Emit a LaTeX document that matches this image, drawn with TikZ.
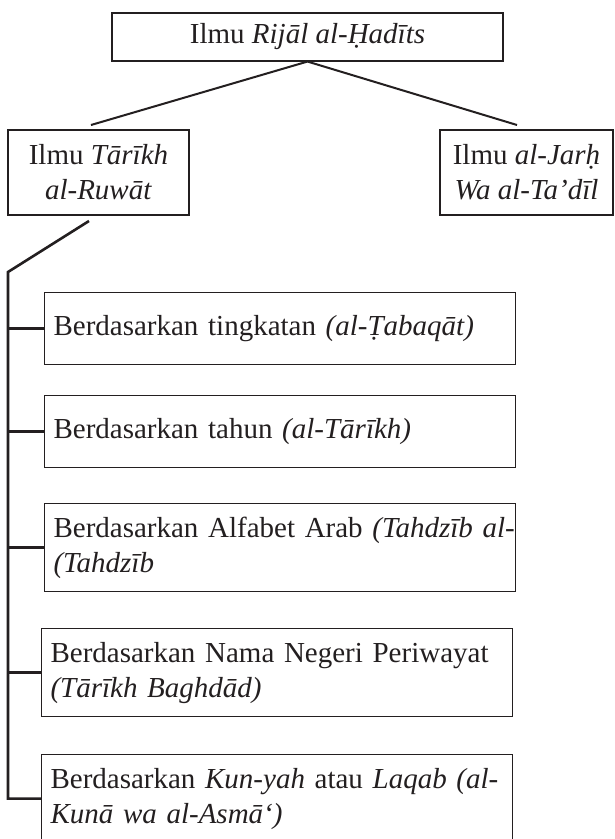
\documentclass[tikz,border=0pt]{standalone}
\usepackage{fontspec}
\setmainfont{Liberation Serif}[Ligatures=ResetAll]
\definecolor{ink}{HTML}{231F20}
\begin{document}
\begin{tikzpicture}[x=1pt,y=-1pt,
  every node/.style={font=\fontsize{29pt}{35pt}\selectfont, text=ink},
  box/.style={draw=ink, line width=1.1pt, inner sep=0pt},
  lbox/.style={box, anchor=north west, text width=453pt, inner xsep=9pt, minimum height=#1, align=left},
  cbox/.style={box, align=center},
  conn/.style={draw=ink, line width=2pt},
  trunk/.style={draw=ink, line width=2.6pt}]
\useasboundingbox (0,0) rectangle (614,839);
\clip (0,0) rectangle (614,839);

\node[cbox, minimum width=391pt, minimum height=48pt] (root) at (307.5,37) {Ilmu \textit{Rijāl al-Ḥadīts}};
\node[cbox, minimum width=181pt, minimum height=85pt] (tarikh) at (98.5,172.5) {Ilmu \textit{Tārīkh}\\\textit{al-Ruwāt}};
\node[cbox, minimum width=173pt, minimum height=85pt] (jarh) at (526.5,172.5) {Ilmu \textit{al-Jarḥ}\\\textit{Wa al-Ta’dīl}};

\node[lbox=72pt] (b1) at (44,292) {\mbox{Berdasarkan tingkatan \textit{(al-Ṭabaqāt)}}};
\node[lbox=72pt] (b2) at (44,395) {\mbox{Berdasarkan tahun \textit{(al-Tārīkh)}}};
\node[lbox=88pt] (b3) at (44,503) {\mbox{Berdasarkan Alfabet Arab \textit{(Tahdzīb al-}}\\\mbox{\textit{(Tahdzīb}}};
\node[lbox=88pt] (b4) at (41,628) {\mbox{Berdasarkan Nama Negeri Periwayat}\\\mbox{\textit{(Tārīkh Baghdād)}}};
\node[lbox=88pt] (b5) at (41,754) {\mbox{Berdasarkan \textit{Kun-yah} atau \textit{Laqab (al-}}\\\mbox{\textit{Kunā wa al-Asmā`)}}};

\coordinate (lend) at (91,125);
\coordinate (rend) at (517,125);
\draw[conn] (lend) -- (root.south) -- (rend);

\coordinate (d0) at (89,221);
\coordinate (d1) at (8,272);
\draw[trunk] (d0) -- (d1) |- (b5.west);
\foreach \b in {b1,b2,b3,b4} \draw[trunk] (\b.west) -- (\b.west -| d1);
\end{tikzpicture}
\end{document}
